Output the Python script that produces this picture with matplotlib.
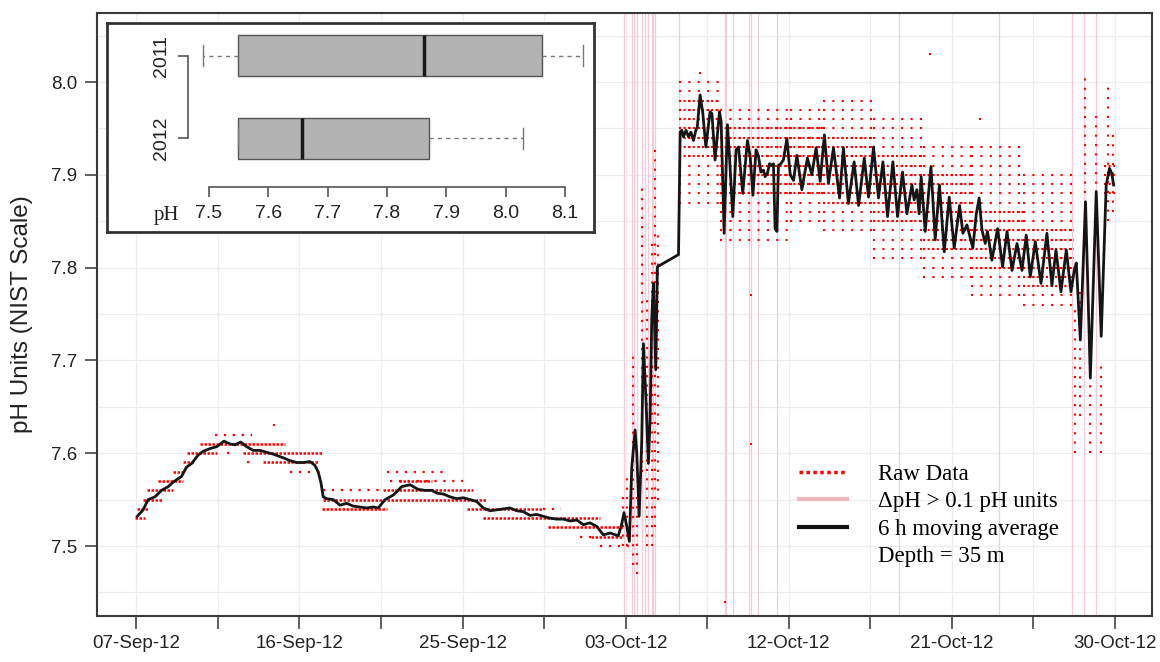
import matplotlib
matplotlib.use("Agg")
import matplotlib.pyplot as plt
from matplotlib.lines import Line2D
import numpy as np

# time axis is in days since 07-Sep-2012 00:00
tick_days = [0, 8.833, 17.667, 26.5, 35.333, 44.167, 53]
tick_labels = ["07-Sep-12", "16-Sep-12", "25-Sep-12", "03-Oct-12",
               "12-Oct-12", "21-Oct-12", "30-Oct-12"]

# 6 h moving average
ma_day = [0.05, 0.37, 0.64, 1.01, 1.37, 1.73, 2.00, 2.45, 2.72, 3.00, 3.35, 3.62, 3.99,
          4.35, 4.75, 5.07, 5.34, 5.65, 5.98, 6.33, 6.70, 7.06, 7.42, 7.96, 8.32, 8.68,
          9.04, 9.40, 9.67, 9.85, 10.00, 10.12, 10.31, 10.67, 11.03, 11.39, 11.75, 12.11,
          12.48, 12.83, 13.10, 13.47, 13.92, 14.37, 14.82, 15.27, 15.63, 16.00, 16.27,
          16.63, 16.99, 17.35, 17.71, 18.07, 18.43, 18.79, 19.16, 19.52, 19.88, 20.24,
          20.60, 20.96, 21.32, 21.68, 22.04, 22.40, 22.77, 23.13, 23.49, 23.85, 24.21,
          24.57, 24.94, 25.29, 25.66, 26.10, 26.29, 26.41, 26.56, 26.70, 26.83, 27.01,
          27.10, 27.23, 27.37, 27.46, 27.60, 27.73, 27.82, 27.91, 28.00, 28.13, 28.22,
          29.36, 29.45, 29.54, 29.63, 29.77, 29.90, 30.03, 30.17, 30.30, 30.38, 30.53,
          30.68, 30.84, 31.07, 31.17, 31.34, 31.58, 31.67, 31.83, 32.01, 32.12, 32.30,
          32.48, 32.61, 32.84, 33.09, 33.24, 33.39, 33.56, 33.69, 33.82, 33.96, 34.05,
          34.18, 34.29, 34.42, 34.50, 34.59, 34.69, 34.77, 34.90, 35.04, 35.23, 35.41,
          35.59, 35.77, 36.04, 36.34, 36.58, 36.81, 37.03, 37.26, 37.48, 37.75, 38.08,
          38.29, 38.56, 38.87, 39.11, 39.42, 39.65, 39.92, 40.19, 40.43, 40.68, 40.97,
          41.22, 41.49, 41.73, 42.00, 42.12, 42.27, 42.39, 42.50, 42.72, 43.03, 43.26,
          43.49, 43.75, 44.02, 44.29, 44.58, 44.76, 44.98, 45.30, 45.48, 45.64, 45.79,
          45.97, 46.09, 46.33, 46.64, 46.91, 47.15, 47.42, 47.69, 47.96, 48.19, 48.41,
          48.68, 48.99, 49.31, 49.58, 49.80, 50.07, 50.36, 50.61, 50.79, 50.90, 51.12,
          51.40, 51.66, 51.98, 52.25, 52.52, 52.70, 52.83, 52.92]
ma_ph = [7.532, 7.539, 7.550, 7.553, 7.560, 7.564, 7.569, 7.575, 7.585, 7.589, 7.598, 7.602,
         7.605, 7.607, 7.613, 7.610, 7.609, 7.612, 7.607, 7.603, 7.603, 7.601, 7.599, 7.595,
         7.592, 7.590, 7.590, 7.591, 7.587, 7.580, 7.568, 7.553, 7.551, 7.550, 7.544, 7.546,
         7.543, 7.542, 7.541, 7.542, 7.541, 7.550, 7.555, 7.564, 7.566, 7.561, 7.560, 7.560,
         7.557, 7.556, 7.553, 7.551, 7.552, 7.550, 7.548, 7.541, 7.538, 7.539, 7.540, 7.541,
         7.538, 7.537, 7.533, 7.534, 7.532, 7.530, 7.529, 7.529, 7.527, 7.528, 7.523, 7.525,
         7.521, 7.512, 7.514, 7.511, 7.524, 7.536, 7.521, 7.505, 7.585, 7.625, 7.600, 7.532,
         7.614, 7.718, 7.657, 7.589, 7.636, 7.744, 7.783, 7.690, 7.801, 7.814, 7.946, 7.948,
         7.941, 7.948, 7.941, 7.946, 7.937, 7.948, 7.952, 7.986, 7.966, 7.930, 7.968, 7.966,
         7.916, 7.968, 7.957, 7.837, 7.954, 7.920, 7.855, 7.927, 7.930, 7.880, 7.937, 7.920,
         7.878, 7.927, 7.920, 7.903, 7.905, 7.898, 7.902, 7.912, 7.910, 7.912, 7.842, 7.839,
         7.910, 7.912, 7.916, 7.939, 7.900, 7.894, 7.921, 7.884, 7.918, 7.900, 7.929, 7.893,
         7.943, 7.891, 7.929, 7.875, 7.929, 7.869, 7.914, 7.867, 7.918, 7.876, 7.930, 7.875,
         7.914, 7.855, 7.914, 7.855, 7.903, 7.858, 7.889, 7.873, 7.884, 7.858, 7.898, 7.839,
         7.909, 7.830, 7.889, 7.817, 7.876, 7.821, 7.867, 7.837, 7.846, 7.821, 7.857, 7.875,
         7.841, 7.826, 7.839, 7.808, 7.842, 7.801, 7.839, 7.797, 7.826, 7.797, 7.835, 7.790,
         7.828, 7.783, 7.837, 7.781, 7.819, 7.774, 7.819, 7.774, 7.797, 7.805, 7.722, 7.871,
         7.681, 7.882, 7.726, 7.889, 7.907, 7.901, 7.889]

# times where the change exceeded 0.1 pH units
flag_days = [26.43, 26.86, 26.97, 27.10, 27.40, 27.55, 27.73, 27.91, 28.00, 28.09, 29.36,
             31.87, 31.92, 32.32, 33.19, 33.30, 33.68, 34.70, 41.29, 46.70, 50.65, 51.34,
             51.96]

# raw data, September: runs of readings at one 0.01 level
run_lvl = [7.53, 7.54, 7.55, 7.56, 7.57, 7.58, 7.59, 7.60, 7.61, 7.60, 7.59, 7.55, 7.54,
           7.56, 7.57, 7.54, 7.53, 7.52, 7.51]
run_t0 = [-0.05, 0.02, 0.34, 0.56, 1.19, 1.97, 2.54, 2.72, 3.45, 5.79, 6.88, 10.13, 10.04,
          13.38, 14.2, 17.89, 18.79, 22.3, 24.6]
run_t1 = [0.47, 0.65, 1.42, 1.96, 2.54, 2.58, 3.12, 4.35, 8.05, 10.13, 9.91, 18.98, 13.56,
          18.25, 16.0, 22.04, 25.11, 26.38, 26.38]
sparse_lvl = [7.62, 7.58, 7.56, 7.57, 7.58, 7.54, 7.51, 7.50, 7.60, 7.59]
sparse_t0 = [4.26, 8.32, 10.13, 13.74, 13.56, 22.04, 24.03, 25.1, 4.9, 5.97]
sparse_t1 = [6.24, 9.77, 13.2, 17.71, 16.6, 23.0, 24.6, 26.92, 5.35, 6.33]

# raw data, October: spread of the readings (dense core, scattered fringe)
band_t0 = [29.4, 31.6, 37.2, 39.9, 42.6, 45.2, 48.0, 52.4]
band_t1 = [31.6, 37.2, 39.9, 42.6, 45.2, 48.0, 50.8, 53.0]
band_lo = [7.92, 7.88, 7.87, 7.85, 7.82, 7.80, 7.78, 7.88]
band_hi = [7.98, 7.95, 7.94, 7.92, 7.90, 7.86, 7.84, 7.91]
fringe_t0 = [29.4, 31.6, 35.4, 37.2, 39.9, 42.6, 45.2, 48.0]
fringe_t1 = [31.6, 35.4, 37.2, 39.9, 42.6, 45.2, 48.0, 50.8]
fringe_lo = [7.87, 7.83, 7.85, 7.84, 7.81, 7.79, 7.77, 7.76]
fringe_hi = [8.00, 7.97, 7.97, 7.98, 7.96, 7.93, 7.93, 7.90]

# raw data during the fast swings: one column of readings per time
col_t = [26.38, 26.56, 26.89, 27.10, 27.40, 27.64, 27.91, 28.09, 28.27,
         50.85, 51.12, 51.39, 51.66, 51.98, 52.25, 52.60, 52.90]
col_lo = [7.50, 7.50, 7.48, 7.47, 7.58, 7.50, 7.50, 7.52, 7.55,
          7.60, 7.64, 7.88, 7.60, 7.88, 7.60, 7.85, 7.86]
col_hi = [7.56, 7.58, 7.71, 7.56, 7.89, 7.77, 7.83, 7.93, 7.84,
          7.76, 7.78, 8.01, 7.70, 7.97, 7.70, 8.00, 7.95]

out_t = [7.45, 31.87, 33.29, 43.0, 30.5, 45.7, 33.3]
out_ph = [7.63, 7.44, 7.61, 8.03, 8.01, 7.96, 7.77]

# inset box plot summary
box_years = ["2011", "2012"]
box_min = [7.490, 7.549]
box_q1 = [7.549, 7.549]
box_med = [7.863, 7.657]
box_q3 = [8.061, 7.871]
box_max = [8.130, 8.030]
inset_ticks = [7.5, 7.6, 7.7, 7.8, 7.9, 8.0, 8.1]

sans = ["Liberation Sans", "DejaVu Sans"]
serif = ["Liberation Serif", "DejaVu Serif"]

fig = plt.figure(figsize=(11.6, 6.62), dpi=100)
ax = fig.add_axes([0.0836, 0.0695, 0.9095, 0.9109])

# grid
for d in np.arange(0, 53.01, 53 / 12):
    ax.axvline(d, color="#EDEDED", lw=0.9, zorder=0)
for y in np.arange(7.45, 8.06, 0.05):
    ax.axhline(y, color="#EDEDED", lw=0.9, zorder=0)

for d in flag_days:
    ax.axvline(d, color="#F6CBD6", lw=0.9, zorder=1)

# raw readings
ax.hlines(run_lvl, run_t0, run_t1, colors="red", lw=1.8, linestyles=(0, (1, 0.6)), zorder=2)
ax.hlines(sparse_lvl, sparse_t0, sparse_t1, colors="red", lw=1.6, linestyles=(0, (1, 3)),
          zorder=2)
for t0, t1, lo, hi in zip(band_t0, band_t1, band_lo, band_hi):
    lv = np.round(np.arange(lo, hi + 0.001, 0.01), 2)
    ax.hlines(lv, t0, t1, colors="red", lw=1.5, linestyles=(0, (1, 1.2)), zorder=2)
for t0, t1, lo, hi in zip(fringe_t0, fringe_t1, fringe_lo, fringe_hi):
    lv = np.round(np.arange(lo, hi + 0.001, 0.01), 2)
    ax.hlines(lv, t0, t1, colors="red", lw=1.5, linestyles=(0, (1, 3.5)), zorder=2)
ax.vlines(col_t, col_lo, col_hi, colors="red", lw=1.5, linestyles=(0, (1, 3.5)), zorder=2)
ax.scatter(out_t, out_ph, s=4, c="red", marker="s", lw=0, zorder=2)

ax.plot(ma_day, ma_ph, color="#151515", lw=2.0, zorder=3)

ax.set_xlim(-2.13, 55.0)
ax.set_ylim(7.4246, 8.0744)
ax.set_xticks(np.arange(0, 53.01, 53 / 12))
xl = []
for lab in tick_labels:
    xl += [lab, ""]
ax.set_xticklabels(xl[:13])
ax.set_yticks([7.5, 7.6, 7.7, 7.8, 7.9, 8.0])
ax.set_yticklabels(["7.5", "7.6", "7.7", "7.8", "7.9", "8.0"])
ax.tick_params(length=9, width=1.2, color="#444444", labelsize=13.5, labelcolor="#222222", pad=5)
for lab in ax.get_xticklabels() + ax.get_yticklabels():
    lab.set_family(sans)
for s in ax.spines.values():
    s.set_color("#3A3A3A")
    s.set_linewidth(1.5)
ax.set_ylabel("pH Units (NIST Scale)", fontsize=17.5, family=sans, color="#222222", labelpad=13)

handles = [Line2D([], [], color="red", lw=2.5, ls=(0, (1, 1))),
           Line2D([], [], color="#EBB8BE", lw=3),
           Line2D([], [], color="#111111", lw=3),
           Line2D([], [], color="none")]
labels = ["Raw Data", "\u0394pH > 0.1 pH units", "6 h moving average", "Depth = 35 m"]
ax.legend(handles, labels, loc="upper left", bbox_to_anchor=(799 / 1160, 1 - 464 / 662),
          bbox_transform=fig.transFigure, frameon=False, borderpad=0, borderaxespad=0,
          handlelength=2.1, handletextpad=1.35, labelspacing=0.28,
          prop={"family": serif, "size": 16.5})

# inset box plot
rect = [0.0925, 0.650, 0.4196, 0.3148]
frame = fig.add_axes(rect)
frame.set_xticks([])
frame.set_yticks([])
for s in frame.spines.values():
    s.set_color("#333333")
    s.set_linewidth(2)

ins = fig.add_axes(rect, facecolor="none")
stats = [dict(label=y, whislo=a, q1=b, med=c, q3=d, whishi=e, fliers=[])
         for y, a, b, c, d, e in zip(box_years, box_min, box_q1, box_med, box_q3, box_max)]
ins.bxp(stats, positions=[1, 2], widths=0.5, orientation="horizontal", patch_artist=True,
        showfliers=False, manage_ticks=False, capwidths=0.25,
        boxprops=dict(facecolor="#B3B3B3", edgecolor="#555555", lw=1),
        medianprops=dict(color="#1A1A1A", lw=2.5),
        whiskerprops=dict(color="#777777", lw=1, ls=(0, (3, 3))),
        capprops=dict(color="#777777", lw=1))
ins.set_xlim(7.3285, 8.149)
ins.set_ylim(3.128, 0.611)
ins.spines["top"].set_visible(False)
ins.spines["right"].set_visible(False)
ins.spines["bottom"].set_position(("data", 2.585))
ins.spines["bottom"].set_bounds(7.5, 8.1)
ins.spines["left"].set_position(("data", 7.465))
ins.spines["left"].set_bounds(1, 2)
for k in ("bottom", "left"):
    ins.spines[k].set_color("#555555")
    ins.spines[k].set_linewidth(1.2)
ins.set_xticks(inset_ticks)
ins.set_xticklabels([f"{v:.1f}" for v in inset_ticks])
ins.set_yticks([1, 2])
ins.set_yticklabels(box_years, rotation=90, va="center")
ins.tick_params(length=7, width=1.2, color="#555555", labelsize=14, labelcolor="#222222", pad=6)
for lab in ins.get_xticklabels() + ins.get_yticklabels():
    lab.set_family(sans)
ins.text(7.4287, 0.08, "pH", transform=ins.get_xaxis_transform(), ha="center", va="center",
         fontsize=15, family=serif, color="#222222")

fig.savefig("out.png", dpi=100)
